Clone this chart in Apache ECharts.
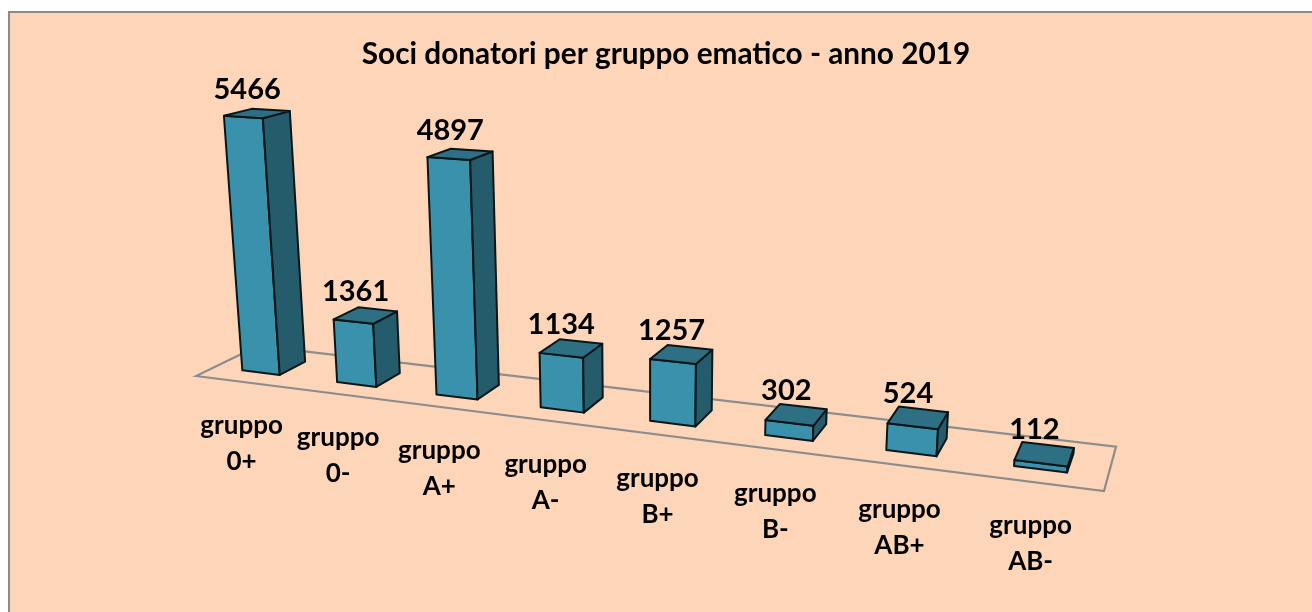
<!DOCTYPE html>
<html>
<head>
<meta charset="utf-8">
<style>html,body{margin:0;padding:0;background:#fff;width:1312px;height:612px;overflow:hidden}#c{width:1312px;height:612px}</style>
<script src="https://cdn.jsdelivr.net/npm/echarts@6/dist/echarts.min.js"></script>
</head>
<body>
<div id="c"></div>
<script>
const chartTitle = 'Soci donatori per gruppo ematico - anno 2019';
const categories = ['gruppo\n0+','gruppo\n0-','gruppo\nA+','gruppo\nA-','gruppo\nB+','gruppo\nB-','gruppo\nAB+','gruppo\nAB-'];
const donors = [5466,1361,4897,1134,1257,302,524,112];

const FONT = 'Lato, "Open Sans", sans-serif';
const axisMax = 6000;
// Perspective camera: floor quad corners on screen, vertical vanishing point
const Q = [[196,376],[1104,491],[1116,446.7],[258,346]];
const VP = [650,6000];
const S = 8.0e-6;
const barWidth = 0.4, v0 = 0.29, v1 = 0.72;

const dx1=Q[1][0]-Q[2][0], dx2=Q[3][0]-Q[2][0], sx=Q[0][0]-Q[1][0]+Q[2][0]-Q[3][0];
const dy1=Q[1][1]-Q[2][1], dy2=Q[3][1]-Q[2][1], sy=Q[0][1]-Q[1][1]+Q[2][1]-Q[3][1];
const den=dx1*dy2-dx2*dy1;
const g=(sx*dy2-dx2*sy)/den, h=(dx1*sy-sx*dy1)/den;
const a=Q[1][0]-Q[0][0]+g*Q[1][0], b=Q[3][0]-Q[0][0]+h*Q[3][0], c=Q[0][0];
const d=Q[1][1]-Q[0][1]+g*Q[1][1], e=Q[3][1]-Q[0][1]+h*Q[3][1], f=Q[0][1];
function project(u,v,w){
  const t=S*w, W=g*u+h*v+1-t;
  return [(a*u+b*v+c-t*VP[0])/W,(d*u+e*v+f-t*VP[1])/W];
}

const FRONT='#3A91AB', SIDE='#255C6C', TOP='#2E6F83', EDGE='#0A1518', FLOOR='#8C8C8C';

function poly(points,fill){
  return {type:'polygon',shape:{points},style:{fill,stroke:EDGE,lineWidth:2,lineJoin:'round'}};
}
function renderBar(params,api){
  const cs=params.coordSys;
  const idx=api.value(0), val=api.value(1);
  const p=api.coord([idx,val]);
  const base=api.coord([idx,0]);
  const band=api.size([1,0])[0]/cs.width;
  const uc=(p[0]-cs.x)/cs.width;
  const w=(base[1]-p[1])/cs.height*axisMax;
  const u0=uc-band*barWidth/2, u1=uc+band*barWidth/2;
  const fbl=project(u0,v0,0), fbr=project(u1,v0,0), bbr=project(u1,v1,0);
  const ftl=project(u0,v0,w), ftr=project(u1,v0,w), btr=project(u1,v1,w), btl=project(u0,v1,w);
  const top=project(uc,(v0+v1)/2,w);
  const edge=project(uc,0,0);
  return {type:'group',children:[
    poly([fbl,fbr,ftr,ftl],FRONT),
    poly([fbr,bbr,btr,ftr],SIDE),
    poly([ftl,ftr,btr,btl],TOP),
    {type:'text',z2:20,style:{text:String(val),x:top[0]-10,y:top[1]-24,align:'center',verticalAlign:'middle',fill:'#000',font:'700 29px '+FONT}},
    {type:'text',z2:20,style:{text:categories[idx],x:edge[0]-1-4*uc,y:edge[1]+61.5,align:'center',verticalAlign:'middle',lineHeight:36,fill:'#000',font:'700 26px '+FONT}}
  ]};
}
function renderFloor(){
  const pts=[project(0,0,0),project(1,0,0),project(1,1,0),project(0,1,0)];
  return {type:'polygon',shape:{points:pts},style:{fill:'none',stroke:FLOOR,lineWidth:2.2}};
}

const chart=echarts.init(document.getElementById('c'),null,{renderer:'canvas'});
chart.setOption({
  animation:false,
  backgroundColor:'#fff',
  title:{text:chartTitle,left:661,top:34,textAlign:'center',textStyle:{fontFamily:FONT,fontWeight:700,fontSize:29.75,color:'#000'}},
  graphic:[{type:'rect',z:-10,shape:{x:9,y:12,width:1330,height:630},style:{fill:'#FDD6B9',stroke:'#8C8C8C',lineWidth:2}}],
  grid:{left:0,right:0,top:6,bottom:6},
  xAxis:{type:'category',data:categories,show:false},
  yAxis:{type:'value',min:0,max:axisMax,show:false},
  series:[
    {type:'custom',coordinateSystem:'cartesian2d',z:1,silent:true,renderItem:renderFloor,data:[[0,0]]},
    {type:'custom',coordinateSystem:'cartesian2d',z:2,silent:true,renderItem:renderBar,encode:{x:0,y:1},data:donors.map((v,i)=>[i,v])}
  ]
});
</script>
</body>
</html>
